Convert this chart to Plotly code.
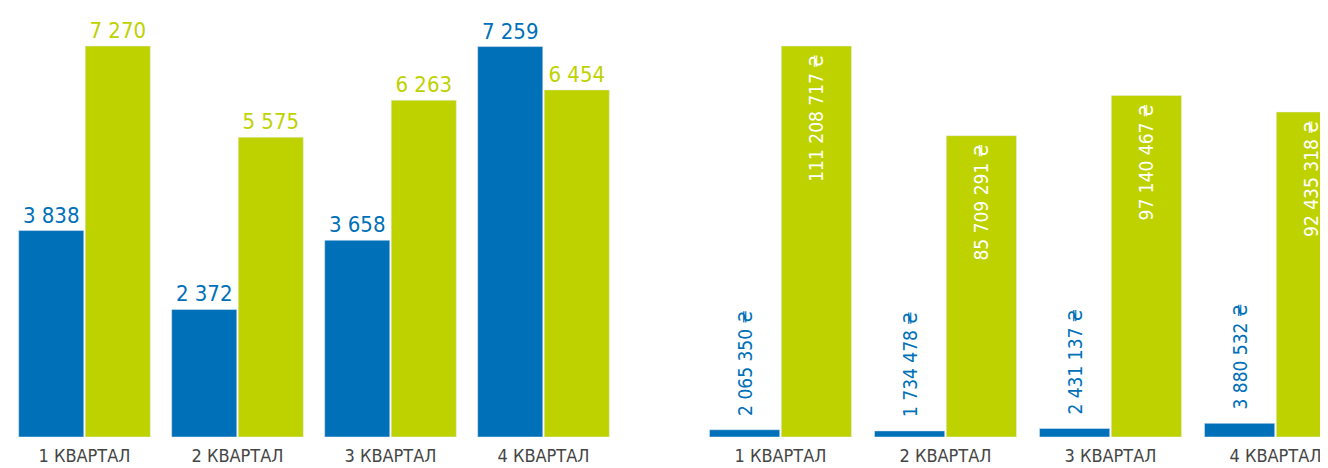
import plotly.graph_objects as go

categories = ["1 КВАРТАЛ", "2 КВАРТАЛ", "3 КВАРТАЛ", "4 КВАРТАЛ"]
left_blue = [3838, 2372, 3658, 7259]
left_green = [7270, 5575, 6263, 6454]
right_blue = [2065350, 1734478, 2431137, 3880532]
right_green = [111208717, 85709291, 97140467, 92435318]

BLUE = "#0070B8"
GREEN = "#BED200"
FONT = "DejaVu Sans Condensed, sans-serif"
NB = "\u00a0"


def fmt(v):
    return f"{v:,}".replace(",", " ")


# page body has an 8px margin, so paper coords = screen coords - 8
W, H = 1328, 460
BOTTOM = 429   # baseline of bars in paper px
TOP_MAX = 38   # top of the tallest bar in paper px
R_START = 690  # left edge of right-hand category axis in paper px
R_CAT = 165    # px per category on the right-hand chart

fig = go.Figure()

fig.add_trace(go.Bar(
    x=categories, y=left_blue, marker_color=BLUE, xaxis="x", yaxis="y",
    text=[fmt(v) for v in left_blue], textposition="outside",
    textfont=dict(family=FONT, size=22, color=BLUE), constraintext="none",
    cliponaxis=False, hoverinfo="skip"))
fig.add_trace(go.Bar(
    x=categories, y=left_green, marker_color=GREEN, xaxis="x", yaxis="y",
    text=[fmt(v) for v in left_green], textposition="outside",
    textfont=dict(family=FONT, size=22, color=GREEN), constraintext="none",
    cliponaxis=False, hoverinfo="skip"))
fig.add_trace(go.Bar(
    x=categories, y=right_blue, marker_color=BLUE, xaxis="x2", yaxis="y2",
    text=[NB * 2 + fmt(v) + " ₴" for v in right_blue], textposition="outside",
    textangle=-90, textfont=dict(family=FONT, size=19, color=BLUE),
    constraintext="none", cliponaxis=False, hoverinfo="skip"))
fig.add_trace(go.Bar(
    x=categories, y=right_green, marker_color=GREEN, xaxis="x2", yaxis="y2",
    text=[fmt(v) + " ₴" + NB for v in right_green], textposition="inside",
    insidetextanchor="end", textangle=-90,
    textfont=dict(family=FONT, size=19, color="white"),
    constraintext="none", hoverinfo="skip"))

ybot = 1 - BOTTOM / H
plot_h = BOTTOM
lmax = max(left_green) * plot_h / (BOTTOM - TOP_MAX)
rmax = max(right_green) * plot_h / (BOTTOM - TOP_MAX)

tickfont = dict(family=FONT, size=18, color="#454545")
fig.update_layout(
    width=W, height=H, margin=dict(l=0, r=0, t=0, b=0),
    paper_bgcolor="white", plot_bgcolor="white", showlegend=False,
    bargap=0.13, bargroupgap=0.022, barmode="group",
    xaxis=dict(domain=[0, 612 / W], range=[-0.5, 3.5], showgrid=False,
               zeroline=False, showline=False, ticks="", tickfont=tickfont,
               ticklabelstandoff=6, anchor="y"),
    yaxis=dict(domain=[ybot, 1], range=[0, lmax], visible=False),
    xaxis2=dict(domain=[R_START / W, 1],
                range=[-0.5, -0.5 + (W - R_START) / R_CAT],
                showgrid=False, zeroline=False, showline=False, ticks="",
                tickfont=tickfont, ticklabelstandoff=6, anchor="y2"),
    yaxis2=dict(domain=[ybot, 1], range=[0, rmax], visible=False,
                anchor="x2"),
)

fig.write_html("out.html")
